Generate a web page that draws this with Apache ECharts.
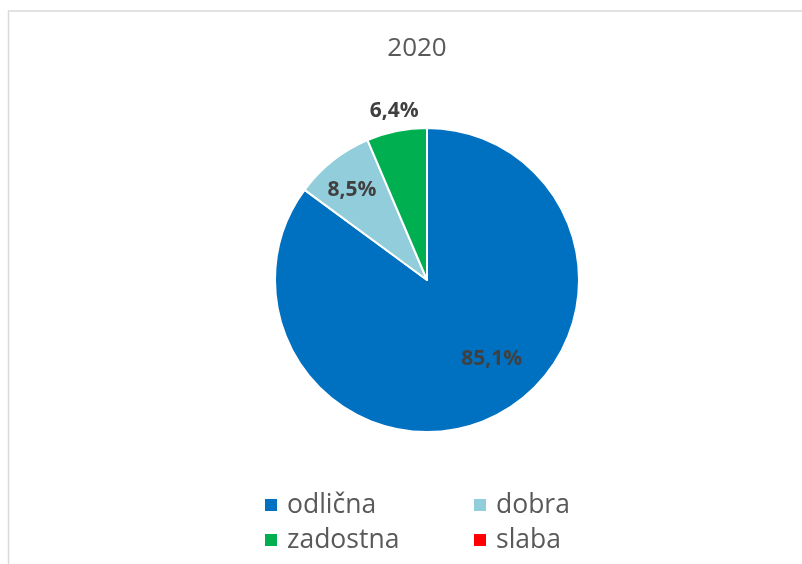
<!DOCTYPE html>
<html>
<head>
<meta charset="utf-8">
<script src="https://cdn.jsdelivr.net/npm/echarts@6/dist/echarts.min.js"></script>
<style>html,body{margin:0;padding:0;background:#fff}#c{width:802px;height:564px}</style>
</head>
<body>
<div id="c"></div>
<script>
var titleText = '2020';
var categories = ['odlična', 'dobra', 'zadostna', 'slaba'];
var values = [85.1, 8.5, 6.4, 0];
var colors = ['#0070C0', '#92CDDC', '#00B050', '#FF0000'];
var labelOffsets = [[29, 9], [-26, -28], [-17, -92], [0, 0]];

var FONT = '"Open Sans", sans-serif';
var chart = echarts.init(document.getElementById('c'));

var legendPos = [[263, 490], [472, 490], [263, 525], [472, 525]];
var legends = categories.map(function (name, i) {
  return {
    data: [name],
    left: legendPos[i][0],
    top: legendPos[i][1],
    padding: 0,
    itemWidth: 14,
    itemHeight: 14,
    itemGap: 0,
    icon: 'rect',
    selectedMode: false,
    textStyle: { fontFamily: FONT, fontSize: 26.5, color: '#595959', lineHeight: 30, padding: [0, 0, 0, 4] }
  };
});

var data = categories.map(function (name, i) {
  return {
    name: name,
    value: values[i],
    itemStyle: { color: colors[i] },
    label: { show: values[i] > 0, offset: labelOffsets[i] }
  };
});

chart.setOption({
  animation: false,
  backgroundColor: '#fff',
  title: {
    text: titleText,
    left: 412,
    textAlign: 'center',
    top: 31,
    textStyle: { fontFamily: FONT, fontSize: 26, fontWeight: 'normal', color: '#595959' }
  },
  graphic: [{
    type: 'rect',
    shape: { x: 8.5, y: 11, width: 900, height: 700 },
    style: { fill: 'none', stroke: '#d9d9d9', lineWidth: 1.5 },
    silent: true
  }],
  legend: legends,
  series: [{
    type: 'pie',
    center: [427, 280],
    radius: [0, 152],
    startAngle: 90,
    clockwise: true,
    avoidLabelOverlap: false,
    itemStyle: { borderColor: '#fff', borderWidth: 2 },
    label: {
      position: 'inside',
      fontFamily: FONT,
      fontSize: 21,
      fontWeight: 'bold',
      color: '#404040',
      formatter: function (p) { return p.value.toFixed(1).replace('.', ',') + '%'; }
    },
    labelLine: { show: false },
    emphasis: { disabled: true },
    data: data
  }]
});
</script>
</body>
</html>
